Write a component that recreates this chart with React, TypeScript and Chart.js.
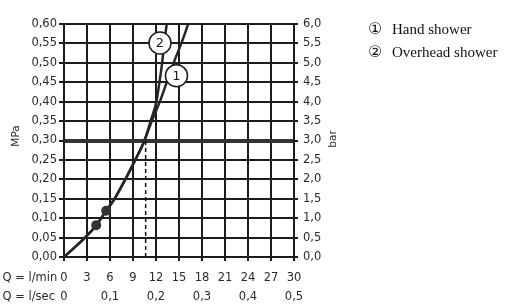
import React, { useEffect, useRef } from 'react';
import { Chart, registerables } from 'chart.js';

Chart.register(...registerables);

// ---- data ----
// flow rate in l/min, pressure in MPa
const pressureSteps = [0, 0.055, 0.082, 0.119, 0.15, 0.2, 0.25, 0.3, 0.35, 0.4, 0.45, 0.5, 0.55, 0.6];
const handShowerFlow = [0, 3, 4.2, 5.5, 6.6, 8.0, 9.3, 10.5, 11.45, 12.5, 13.4, 14.3, 15.3, 16.2];
const overheadShowerFlow = [0, 3, 4.2, 5.5, 6.6, 8.0, 9.3, 10.5, 11.3, 12.05, 12.45, 12.8, 13.07, 13.4];

const markerFlow = [4.2, 5.5];
const markerPressure = [0.082, 0.119];

const referenceFlow = 10.65;
const referencePressure = 0.3;

const labelFlow = [14.67, 12.52];
const labelPressure = [0.467, 0.551];
const labelText = ['1', '2'];

const flowTicksMin = ['0', '3', '6', '9', '12', '15', '18', '21', '24', '27', '30'];
const flowTicksSec = ['0', '', '0,1', '', '0,2', '', '0,3', '', '0,4', '', '0,5'];

const legendItems = ['Hand shower', 'Overhead shower'];
const legendMarks = ['\u2460', '\u2461'];

const FONT = '"DejaVu Sans", sans-serif';
const INK = '#1c1c1c';
const TEXT = '#2b2b2b';

export default function App() {
  const ref = useRef<HTMLCanvasElement>(null);

  useEffect(() => {
    const canvas = ref.current;
    if (!canvas) return;

    const textPlugin = {
      id: 'extraText',
      afterDatasetsDraw(chart: any) {
        const ctx = chart.ctx;
        const meta = chart.getDatasetMeta(0);
        ctx.save();
        ctx.fillStyle = INK;
        ctx.font = `13px ${FONT}`;
        ctx.textAlign = 'center';
        ctx.textBaseline = 'middle';
        meta.data.forEach((el: any, i: number) => {
          ctx.fillText(labelText[i], el.x, el.y + 0.5);
        });
        ctx.restore();
      },
      afterDraw(chart: any) {
        const ctx = chart.ctx;
        ctx.save();
        ctx.fillStyle = TEXT;
        ctx.font = `11.5px ${FONT}`;
        ctx.textBaseline = 'middle';
        ctx.textAlign = 'left';
        ctx.fillText('Q = l/min', 2.5, 278);
        ctx.fillText('Q = l/sec', 2.5, 297);
        ctx.textAlign = 'center';
        ctx.font = `10.5px ${FONT}`;
        ctx.save();
        ctx.translate(16, 136);
        ctx.rotate(-Math.PI / 2);
        ctx.fillText('MPa', 0, 0);
        ctx.restore();
        ctx.save();
        ctx.translate(333, 139);
        ctx.rotate(-Math.PI / 2);
        ctx.fillText('bar', 0, 0);
        ctx.restore();
        ctx.restore();
      },
    };

    const curve = (flows: number[]) => flows.map((q, i) => ({ x: q, y: pressureSteps[i] }));

    const chart = new Chart(canvas, {
      type: 'scatter',
      data: {
        datasets: [
          {
            label: 'labels',
            data: labelFlow.map((q, i) => ({ x: q, y: labelPressure[i] })),
            pointRadius: 11,
            pointBackgroundColor: '#ffffff',
            pointBorderColor: INK,
            pointBorderWidth: 1.5,
            showLine: false,
          },
          {
            label: 'markers',
            data: markerFlow.map((q, i) => ({ x: q, y: markerPressure[i] })),
            pointRadius: 5,
            pointBackgroundColor: '#333333',
            pointBorderColor: '#333333',
            pointBorderWidth: 0,
            showLine: false,
          },
          {
            label: 'Hand shower',
            data: curve(handShowerFlow),
            showLine: true,
            borderColor: '#262626',
            borderWidth: 2.5,
            pointRadius: 0,
            cubicInterpolationMode: 'monotone',
          },
          {
            label: 'Overhead shower',
            data: curve(overheadShowerFlow),
            showLine: true,
            borderColor: '#262626',
            borderWidth: 2.5,
            pointRadius: 0,
            cubicInterpolationMode: 'monotone',
          },
          {
            label: 'reference',
            data: [
              { x: referenceFlow, y: 0 },
              { x: referenceFlow, y: referencePressure },
            ],
            showLine: true,
            borderColor: '#111111',
            borderWidth: 1.5,
            borderDash: [4, 3],
            pointRadius: 0,
          },
        ],
      },
      options: {
        animation: false,
        responsive: false,
        devicePixelRatio: 1,
        events: [],
        layout: { padding: { top: 24, left: 0, right: 0, bottom: 0 } },
        plugins: { legend: { display: false }, tooltip: { enabled: false } },
        scales: {
          x: {
            type: 'linear',
            position: 'bottom',
            min: 0,
            max: 30,
            afterFit: (s: any) => {
              s.height = 48;
            },
            ticks: {
              stepSize: 3,
              autoSkip: false,
              maxRotation: 0,
              padding: 7.5,
              color: TEXT,
              font: { family: FONT, size: 11.5, lineHeight: 19 / 11.5 },
              callback: (_v: any, i: number) => [flowTicksMin[i] ?? '', flowTicksSec[i] ?? ''],
            },
            grid: { color: INK, lineWidth: 2, tickLength: 4, drawTicks: true },
            border: { color: INK, width: 2 },
          },
          y: {
            type: 'linear',
            position: 'left',
            min: 0,
            max: 0.6,
            afterFit: (s: any) => {
              s.width = 64;
            },
            ticks: {
              stepSize: 0.05,
              padding: 2,
              color: TEXT,
              font: { family: FONT, size: 11.5 },
              callback: (v: any) => Number(v).toFixed(2).replace('.', ','),
            },
            grid: {
              color: (c: any) => (c.tick && Math.abs(c.tick.value - 0.3) < 1e-6 ? '#333333' : INK),
              lineWidth: (c: any) => (c.tick && Math.abs(c.tick.value - 0.3) < 1e-6 ? 4 : 2),
              tickWidth: 2,
              tickColor: INK,
              tickLength: 5,
            },
            border: { color: INK, width: 2 },
          },
          y2: {
            type: 'linear',
            position: 'right',
            min: 0,
            max: 6,
            afterFit: (s: any) => {
              s.width = 214;
            },
            ticks: {
              stepSize: 0.5,
              padding: 5,
              color: TEXT,
              font: { family: FONT, size: 11.5 },
              callback: (v: any) => Number(v).toFixed(1).replace('.', ','),
            },
            grid: { drawOnChartArea: false, color: INK, lineWidth: 2, tickLength: 4 },
            border: { color: INK, width: 2 },
          },
        },
      } as any,
      plugins: [textPlugin],
    });

    return () => chart.destroy();
  }, []);

  return (
    <div style={{ position: 'fixed', left: 0, top: 0, width: 508, height: 305, background: '#fff' }}>
      <canvas
        ref={ref}
        width={508}
        height={305}
        style={{ position: 'absolute', left: 0, top: 0, width: 508, height: 305 }}
      />
      {legendItems.map((t, i) => (
        <div
          key={t}
          style={{
            position: 'absolute',
            left: 368,
            top: 16.5 + i * 23.4,
            height: 23.4,
            lineHeight: '23.4px',
            whiteSpace: 'nowrap',
            fontFamily: '"Liberation Serif", serif',
            fontSize: 15,
            color: '#111',
          }}
        >
          <span style={{ display: 'inline-block', width: 24, fontFamily: '"DejaVu Sans", sans-serif', fontSize: 16 }}>
            {legendMarks[i]}
          </span>
          {t}
        </div>
      ))}
    </div>
  );
}
